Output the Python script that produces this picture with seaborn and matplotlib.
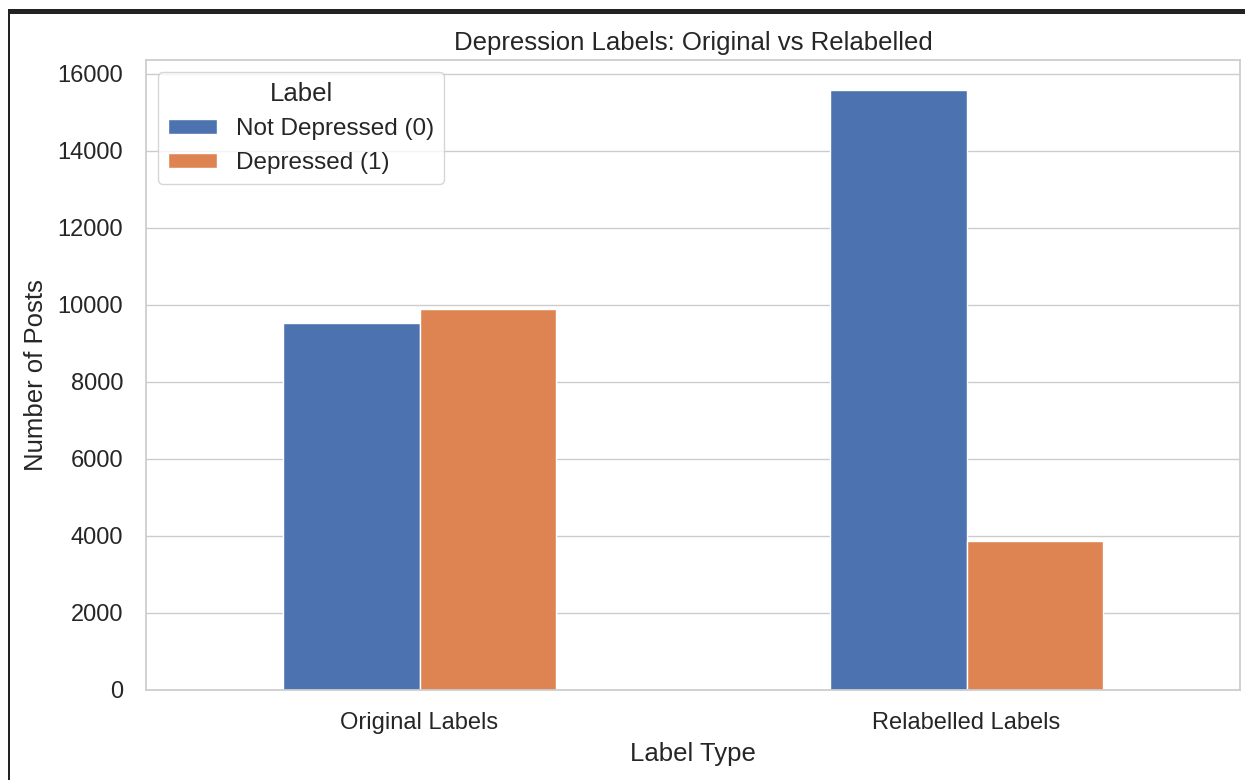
#!/usr/bin/env python3
import pandas as pd
import matplotlib
matplotlib.use('Agg')
import matplotlib.pyplot as plt
import seaborn as sns
from matplotlib.patches import Rectangle

# Data
label_types = ['Original Labels', 'Relabelled Labels']
not_depressed = [9540, 15580]
depressed = [9900, 3860]
label_names = ['Not Depressed (0)', 'Depressed (1)']

sns.set_theme(style='whitegrid')
plt.rcParams['font.family'] = ['Liberation Sans', 'DejaVu Sans']

df = pd.DataFrame({
    'Label Type': label_types * 2,
    'Count': not_depressed + depressed,
    'Label': [label_names[0]] * 2 + [label_names[1]] * 2,
})

fig = plt.figure(figsize=(12.45, 7.8), dpi=100)
ax = fig.add_axes([0.1173, 0.1154, 0.8787, 0.8076])

palette = sns.color_palette('deep')[:2]
sns.barplot(data=df, x='Label Type', y='Count', hue='Label', hue_order=label_names,
            palette=palette, saturation=1, width=0.5, gap=0,
            edgecolor='white', linewidth=1, ax=ax)

ax.set_title('Depression Labels: Original vs Relabelled', fontsize=18.5, pad=7)
ax.set_xlabel('Label Type', fontsize=18.5, labelpad=6)
ax.set_ylabel('Number of Posts', fontsize=18.5, labelpad=7)
ax.tick_params(axis='both', labelsize=17)
ax.tick_params(axis='x', pad=9.5)
ax.tick_params(axis='y', pad=10.5)
ax.set_xlim(-0.5, 1.5)
ax.set_ylim(0, max(not_depressed + depressed) * 1.05)

sns.move_legend(ax, 'upper left', title='Label', fontsize=17.5, title_fontsize=18.5,
                frameon=True, handleheight=0.6)

# screenshot border (top and left dark edge)
fig.add_artist(Rectangle((8 / 1245, 1 - 14 / 780), 1, 5 / 780, transform=fig.transFigure,
                         facecolor='#222222', edgecolor='none'))
fig.add_artist(Rectangle((8 / 1245, 0), 1.5 / 1245, 1 - 9 / 780, transform=fig.transFigure,
                         facecolor='#222222', edgecolor='none'))

fig.savefig('out.png', dpi=100)
plt.close(fig)
